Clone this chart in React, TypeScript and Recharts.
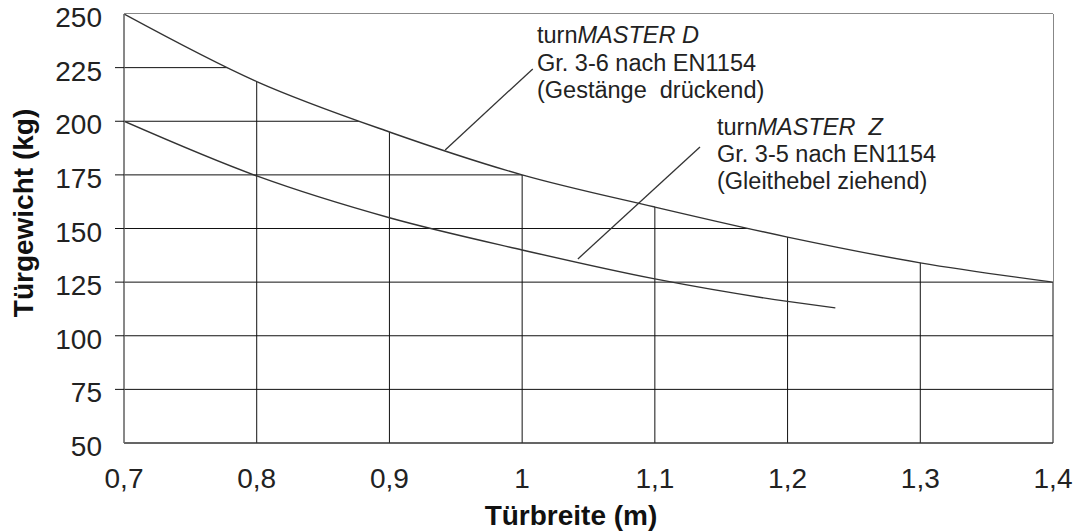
import {
  ComposedChart,
  Line,
  Area,
  XAxis,
  YAxis,
  CartesianGrid,
  ReferenceLine,
} from "recharts";

// Türbreite (m) -> Türgewicht (kg)
const widthsD = [0.7, 0.8, 0.9, 1.0, 1.1, 1.2, 1.3, 1.4];
const weightsD = [250, 218.5, 195, 175, 160, 146, 134, 125];

const widthsZ = [0.7, 0.8, 0.9, 1.0, 1.1, 1.2, 1.236];
const weightsZ = [200, 174.5, 155, 140, 126.5, 116, 113];

const xTicks = [0.7, 0.8, 0.9, 1.0, 1.1, 1.2, 1.3, 1.4];
const yTicks = [50, 75, 100, 125, 150, 175, 200, 225, 250];

// leader lines of the two annotations (data units)
const leaderD = [
  { x: 0.942, y: 186.6 },
  { x: 1.008, y: 224.4 },
];
const leaderZ = [
  { x: 1.042, y: 135.8 },
  { x: 1.134, y: 188 },
];

const dataD = widthsD.map((w, i) => ({ w, d: weightsD[i] }));
const dataZ = widthsZ.map((w, i) => ({ w, z: weightsZ[i] }));

const font = "'Liberation Sans', Arial, sans-serif";
const ink = "#222";

const fmtX = (v: number) => String(v).replace(".", ",");

const YTick = (props: any) => {
  const { x, y, payload } = props;
  const v = payload.value;
  return (
    <g>
      {v !== 50 && v !== 250 && (
        <line x1={x + 13} x2={x + 22} y1={y} y2={y} stroke="#111" />
      )}
      <text x={x} y={y} dy={13} textAnchor="end" fontSize={28} fill={ink} fontFamily={font}>
        {v}
      </text>
    </g>
  );
};

const XTick = (props: any) => {
  const { x, y, payload } = props;
  return (
    <text x={x} y={y} dy={45} textAnchor="middle" fontSize={28} fill={ink} fontFamily={font}>
      {fmtX(payload.value)}
    </text>
  );
};

const annStyle = { whiteSpace: "pre" as const };

export default function App() {
  return (
    <div style={{ position: "absolute", left: 0, top: 0, width: 1075, height: 531, background: "#fff" }}>
      <ComposedChart
        width={1075}
        height={531}
        margin={{ top: 14, right: 22, bottom: 38, left: 0 }}
      >
        <CartesianGrid stroke="#111" strokeWidth={1} />
        <XAxis
          dataKey="w"
          type="number"
          domain={[0.7, 1.4]}
          ticks={xTicks}
          allowDataOverflow
          height={50}
          tickLine={false}
          tickSize={0}
          tickMargin={0}
          tick={<XTick />}
          axisLine={{ stroke: "#444" }}
        />
        <XAxis
          xAxisId="top"
          orientation="top"
          type="number"
          domain={[0.7, 1.4]}
          allowDataOverflow
          height={0}
          tick={false}
          tickLine={false}
          axisLine={{ stroke: "#888" }}
        />
        <YAxis
          type="number"
          domain={[50, 250]}
          ticks={yTicks}
          allowDataOverflow
          width={124}
          tickLine={false}
          tickSize={9}
          tickMargin={13}
          tick={<YTick />}
          axisLine={{ stroke: "#888" }}
        />
        <YAxis
          yAxisId="right"
          orientation="right"
          type="number"
          domain={[50, 250]}
          allowDataOverflow
          width={0}
          tick={false}
          tickLine={false}
          axisLine={{ stroke: "#888" }}
        />
        {/* white fill above the D curve hides the grid there */}
        <Area
          data={dataD}
          dataKey="d"
          type="monotone"
          baseValue={250}
          stroke="none"
          fill="#fff"
          fillOpacity={1}
          isAnimationActive={false}
          dot={false}
          activeDot={false}
        />
        <Line
          data={dataD}
          dataKey="d"
          type="monotone"
          stroke="#333"
          strokeWidth={1.4}
          dot={false}
          activeDot={false}
          isAnimationActive={false}
        />
        <Line
          data={dataZ}
          dataKey="z"
          type="monotone"
          stroke="#333"
          strokeWidth={1.4}
          dot={false}
          activeDot={false}
          isAnimationActive={false}
        />
        <ReferenceLine segment={leaderD} stroke="#333" strokeWidth={1.3} zIndex={450} />
        <ReferenceLine segment={leaderZ} stroke="#333" strokeWidth={1.3} zIndex={450} />

        <text
          x={571}
          y={525}
          textAnchor="middle"
          fontFamily={font}
          fontSize={28}
          fontWeight="bold"
          fill="#111"
        >
          Türbreite (m)
        </text>
        <text
          x={33}
          y={213}
          textAnchor="middle"
          transform="rotate(-90, 33, 213)"
          fontFamily={font}
          fontSize={28}
          fontWeight="bold"
          fill="#111"
        >
          Türgewicht (kg)
        </text>
      </ComposedChart>

      {/* annotation texts, drawn on top of the chart */}
      <svg
        width={1075}
        height={531}
        style={{ position: "absolute", left: 0, top: 0, pointerEvents: "none" }}
      >
        <text fontFamily={font} fontSize={23.5} fill={ink} style={annStyle}>
          <tspan x={537} y={43}>turn</tspan>
          <tspan fontStyle="italic">MASTER D</tspan>
          <tspan x={537} y={71}>Gr. 3-6 nach EN1154</tspan>
          <tspan x={537} y={98}>(Gestänge  drückend)</tspan>
        </text>
        <text fontFamily={font} fontSize={23.5} fill={ink} style={annStyle}>
          <tspan x={717} y={135}>turn</tspan>
          <tspan fontStyle="italic">MASTER  Z</tspan>
          <tspan x={717} y={162}>Gr. 3-5 nach EN1154</tspan>
          <tspan x={717} y={189}>(Gleithebel ziehend)</tspan>
        </text>
      </svg>
    </div>
  );
}
